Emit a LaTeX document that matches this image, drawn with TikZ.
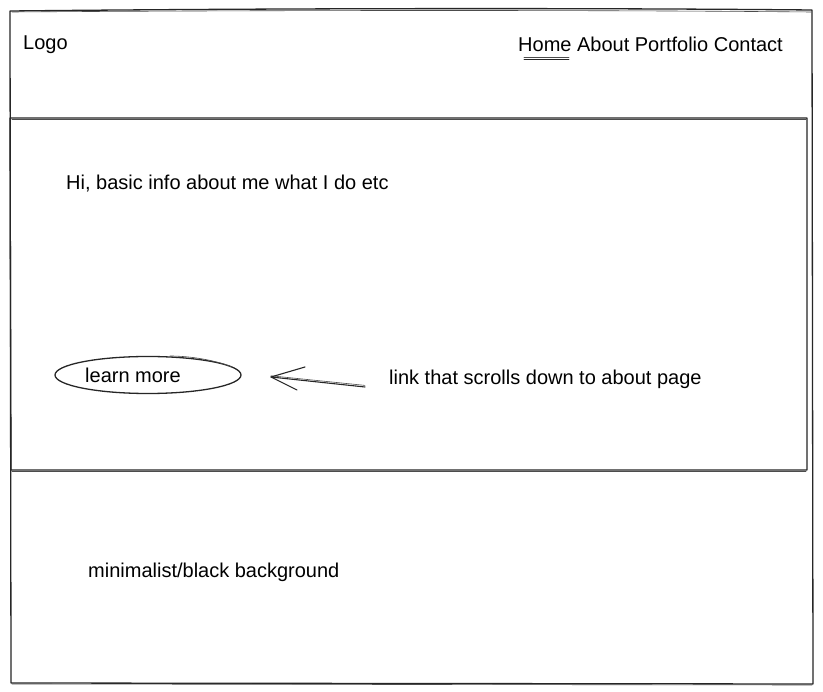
\documentclass[tikz,border=0pt]{standalone}
\usepackage{fontspec}
\setmainfont{Liberation Sans}
\usetikzlibrary{shapes.geometric}
\begin{document}
\begin{tikzpicture}[x=1pt,y=-1pt,
  sketch/.style={draw=black!85,line width=1.3pt,line cap=round,line join=round},
  thin sketch/.style={draw=black!70,line width=0.6pt,line cap=round},
  txt/.style={inner sep=0pt,font=\fontsize{20}{24}\selectfont,text=black},
  btnshape/.style={ellipse,draw=black!85,line width=1.3pt,minimum width=186pt,minimum height=37pt,inner sep=0pt}]
\useasboundingbox (0,0) rectangle (823,692);
\fill[white] (0,0) rectangle (823,692);
% outer page frame
\coordinate (o1) at (10,11);
\coordinate (o2) at (812,10);
\coordinate (o3) at (813,684);
\coordinate (o4) at (11,683);
\draw[sketch] (o1) .. controls (300,8) and (600,8) .. (o2) -- (o3) -- (o4) -- cycle;
\draw[thin sketch] (12,12) .. controls (300,10) and (600,10) .. (811,12);
\draw[thin sketch] (12,684) -- (812,685);
% hero section frame
\coordinate (h1) at (10,118);
\coordinate (h2) at (807,118);
\coordinate (h3) at (807,470);
\coordinate (h4) at (11,470);
\draw[sketch] (h1) -- (h2) -- (h3) -- (h4) -- cycle;
\draw[thin sketch] (12,119) -- (806,119);
\draw[thin sketch] (12,471) -- (806,471);
% header texts
\node[txt,anchor=west] (logo) at (23,45) {Logo};
\node[txt,anchor=west] (nav) at (518,44) {Home About Portfolio Contact};
\coordinate (u1) at (524,59.5);
\coordinate (u2) at (569,59.5);
\draw[line width=0.8pt,black!85,line cap=round] (u1) -- (u2);
\draw[thin sketch] ([yshift=1.8pt]u1) -- ([yshift=1.8pt]u2);
% hero text
\node[txt,anchor=west] (intro) at (66,184) {Hi, basic info about me what I do etc};
% button
\node[btnshape] (btn) at (148,375) {};
\draw[thin sketch] (170,356) .. controls (190,356) and (215,360) .. (232,367);
\node[txt,anchor=west] (lm) at (85,375) {learn more};
% annotation
\node[txt,anchor=west] (note) at (389,379) {link that scrolls down to about page};
\coordinate (tail) at (365,387);
\coordinate (tip) at (271,377);
\coordinate (b1) at (305,367);
\coordinate (b2) at (297,390);
\draw[sketch,line width=1.1pt] (tail) -- (tip);
\draw[thin sketch] ([yshift=1.6pt]tail) -- ([yshift=1.2pt]tip);
\draw[sketch,line width=1.1pt] (b1) -- (tip) -- (b2);
% footer text
\node[txt,anchor=west] (bg) at (88,572) {minimalist/black background};
\end{tikzpicture}
\end{document}
